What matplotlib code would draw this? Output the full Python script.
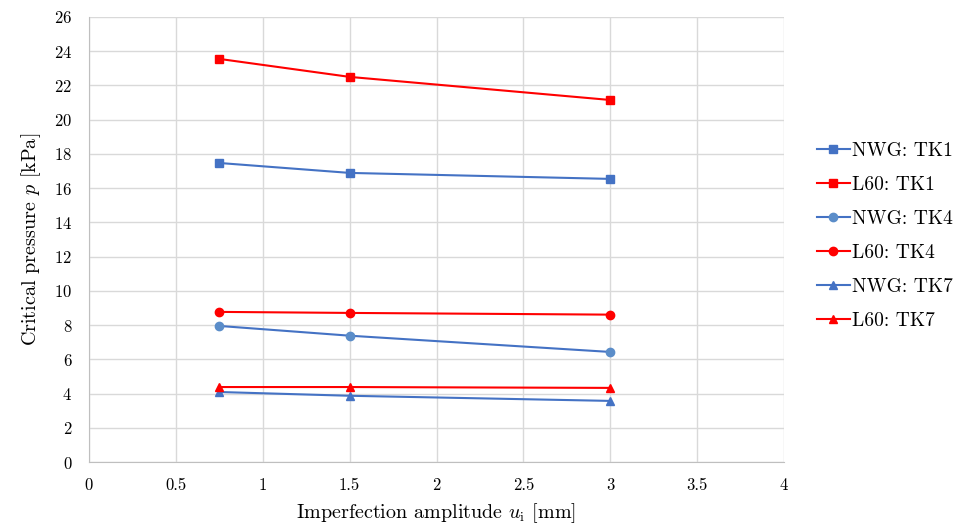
"""
Critical pressure vs imperfection amplitude
"""

import numpy as np
import matplotlib
matplotlib.use("Agg")
import matplotlib.pyplot as plt

plt.rcParams["font.family"] = ["cmr10", "DejaVu Serif"]
plt.rcParams["mathtext.fontset"] = "cm"
plt.rcParams["axes.formatter.use_mathtext"] = True

# data
amplitude = [0.75, 1.5, 3.0]
nwg_tk1 = [17.47, 16.89, 16.54]
l60_tk1 = [23.55, 22.5, 21.15]
nwg_tk4 = [7.95, 7.38, 6.43]
l60_tk4 = [8.77, 8.71, 8.61]
nwg_tk7 = [4.09, 3.87, 3.57]
l60_tk7 = [4.38, 4.38, 4.33]

labels = ["NWG: TK1", "L60: TK1", "NWG: TK4", "L60: TK4", "NWG: TK7", "L60: TK7"]
series = [nwg_tk1, l60_tk1, nwg_tk4, l60_tk4, nwg_tk7, l60_tk7]

blue = "#4472C4"
red = "#FF0000"
colors = [blue, red, blue, red, blue, red]
mfaces = [blue, red, "#5B8DC9", red, blue, red]
markers = ["s", "s", "o", "o", "^", "^"]

fig = plt.figure(figsize=(9.62, 5.24), dpi=100)
ax = fig.add_axes([0.0925, 0.1183, 0.7225, 0.8493])

for vals, lab, c, mf, m in zip(series, labels, colors, mfaces, markers):
    ax.plot(amplitude, vals, color=c, lw=1.5, marker=m, markersize=6,
            markerfacecolor=mf, markeredgecolor=mf, label=lab, clip_on=False)

ax.set_xlim(0, 4)
ax.set_ylim(0, 26)
ax.set_xticks(np.arange(0, 4.01, 0.5))
ax.set_xticklabels(["0", "0.5", "1", "1.5", "2", "2.5", "3", "3.5", "4"])
ax.set_yticks(np.arange(0, 27, 2))
ax.tick_params(length=0, labelsize=12)
ax.tick_params(axis="y", pad=12)
ax.tick_params(axis="x", pad=11)
ax.grid(True, color="#D9D9D9", lw=1)
ax.set_axisbelow(True)
for s in ["top", "right"]:
    ax.spines[s].set_visible(False)
for s in ["left", "bottom"]:
    ax.spines[s].set_color("#BFBFBF")

ax.set_xlabel(r"Imperfection amplitude $u_\mathrm{i}$ [mm]", fontsize=14.5, labelpad=6)
ax.set_ylabel(r"Critical pressure $p$ [kPa]", fontsize=14.5, labelpad=8)

fig.legend(loc="center left", bbox_to_anchor=(0.849, 0.55), frameon=False,
           fontsize=14, handlelength=1.7, handletextpad=0.1, labelspacing=0.83,
           borderpad=0, borderaxespad=0)

fig.savefig("out.png", dpi=100)
